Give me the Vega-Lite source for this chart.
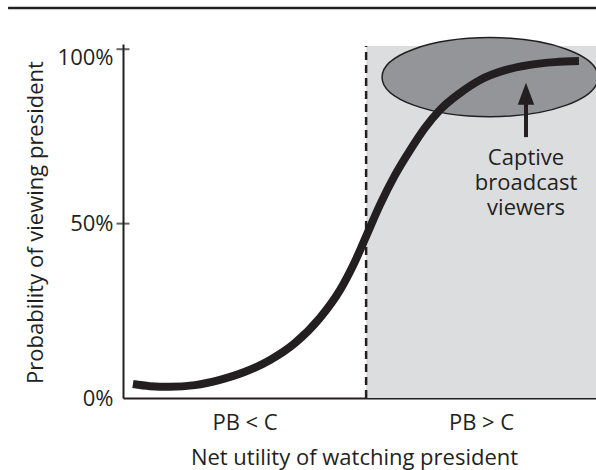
{
  "$schema": "https://vega.github.io/schema/vega-lite/v6.json",
  "width": 473,
  "height": 354,
  "autosize": {"type": "none"},
  "padding": {"left": 123, "top": 44, "right": 0, "bottom": 72},
  "background": "white",
  "config": {
    "view": {"stroke": null},
    "font": "Open Sans",
    "axis": {"zindex": 1}
  },
  "datasets": {
    "curve": [
      {"x": 2.1, "y": 4.0}, {"x": 5.7, "y": 3.4}, {"x": 9.9, "y": 3.2}, {"x": 15.2, "y": 3.7},
      {"x": 20.5, "y": 5.2}, {"x": 25.8, "y": 7.5}, {"x": 31.1, "y": 10.9}, {"x": 36.4, "y": 15.8},
      {"x": 41.6, "y": 22.9}, {"x": 45.9, "y": 31.0}, {"x": 49.0, "y": 39.0}, {"x": 51.6, "y": 47.0},
      {"x": 54.3, "y": 55.3}, {"x": 57.5, "y": 63.9}, {"x": 60.7, "y": 71.1}, {"x": 63.8, "y": 77.4},
      {"x": 67.0, "y": 82.6}, {"x": 71.2, "y": 87.4}, {"x": 75.5, "y": 91.2}, {"x": 80.8, "y": 94.0},
      {"x": 86.0, "y": 95.5}, {"x": 91.3, "y": 96.3}, {"x": 96.4, "y": 96.6}
    ],
    "region": [{"x": 51.4, "x2": 100, "y": 0, "y2": 100.9}],
    "divider": [{"x": 51.4, "y": 0, "y2": 100.9}],
    "topline": [{"x": -24.3, "x2": 100, "y": 111.8}],
    "ellipse": [{"x": 77.6, "y": 92.0}],
    "arrow": [{"x": 85.2, "y": 74.8, "y2": 84.3}],
    "head": [{"x": 85.2, "y": 87.2}],
    "note": [{"x": 85.2, "y": 68.8, "label": "Captive\nbroadcast\nviewers"}],
    "ticks": [{"x": 0, "y": 50}, {"x": 0, "y": 100}]
  },
  "encoding": {
    "x": {
      "field": "x", "type": "quantitative",
      "scale": {"domain": [0, 100], "nice": false, "zero": false},
      "axis": {
        "values": [25.7, 75.7],
        "labelExpr": "datum.value < 50 ? 'PB < C' : 'PB > C'",
        "ticks": false, "tickSize": 0, "grid": false,
        "domainColor": "#231f20", "domainWidth": 2,
        "labelFont": "Open Sans", "labelFontSize": 22, "labelColor": "#231f20",
        "labelBaseline": "middle", "labelPadding": 24,
        "title": "Net utility of watching president",
        "titleFont": "Open Sans", "titleFontSize": 22, "titleFontWeight": "normal", "titleColor": "#231f20",
        "titleBaseline": "middle", "titleX": 231, "titleY": 59, "titleAnchor": "middle"
      }
    },
    "y": {
      "field": "y", "type": "quantitative",
      "scale": {"domain": [0, 101.5], "nice": false},
      "axis": {
        "values": [0, 50, 100],
        "labelExpr": "datum.value + '%'",
        "ticks": false, "tickSize": 0, "grid": false,
        "domainColor": "#231f20", "domainWidth": 2,
        "labelFont": "Open Sans", "labelFontSize": 22, "labelColor": "#231f20",
        "labelBaseline": "middle", "labelPadding": 10,
        "labelOffset": {"condition": {"test": "datum.value == 100", "value": 8}, "value": 0},
        "title": "Probability of viewing president",
        "titleFont": "Open Sans", "titleFontSize": 22, "titleFontWeight": "normal", "titleColor": "#231f20",
        "titleBaseline": "middle", "titleX": -88, "titleY": 178, "titleAngle": -90, "titleAnchor": "middle"
      }
    }
  },
  "layer": [
    {
      "data": {"name": "topline"},
      "mark": {"type": "rule", "color": "#231f20", "strokeWidth": 2.5},
      "encoding": {"x2": {"field": "x2"}}
    },
    {
      "data": {"name": "region"},
      "mark": {"type": "rect", "color": "#dcdddf"},
      "encoding": {"x2": {"field": "x2"}, "y2": {"field": "y2"}}
    },
    {
      "data": {"name": "divider"},
      "mark": {"type": "rule", "color": "#231f20", "strokeWidth": 2.5, "strokeDash": [8, 5]},
      "encoding": {"y2": {"field": "y2"}}
    },
    {
      "data": {"name": "ellipse"},
      "mark": {
        "type": "point", "filled": true, "fill": "#939598", "fillOpacity": 1,
        "stroke": "#231f20", "strokeWidth": 1.5, "opacity": 1,
        "shape": "M-1,0A1,0.366,0,1,0,1,0A1,0.366,0,1,0,-1,0Z",
        "size": 46656
      }
    },
    {
      "data": {"name": "curve"},
      "mark": {"type": "line", "color": "#231f20", "strokeWidth": 8, "interpolate": "monotone", "strokeCap": "butt"}
    },
    {
      "data": {"name": "arrow"},
      "mark": {"type": "rule", "color": "#231f20", "strokeWidth": 4},
      "encoding": {"y2": {"field": "y2"}}
    },
    {
      "data": {"name": "head"},
      "mark": {
        "type": "point", "filled": true, "fill": "#231f20", "opacity": 1, "strokeWidth": 0,
        "shape": "M0,-1L0.75,1L-0.75,1Z", "size": 484
      }
    },
    {
      "data": {"name": "note"},
      "mark": {
        "type": "text", "font": "Open Sans", "fontSize": 22, "color": "#231f20",
        "align": "center", "baseline": "middle", "lineBreak": "\n", "lineHeight": 25
      },
      "encoding": {"text": {"field": "label"}}
    },
    {
      "data": {"name": "ticks"},
      "mark": {"type": "tick", "orient": "horizontal", "color": "#231f20", "size": 13, "thickness": 2}
    }
  ]
}
